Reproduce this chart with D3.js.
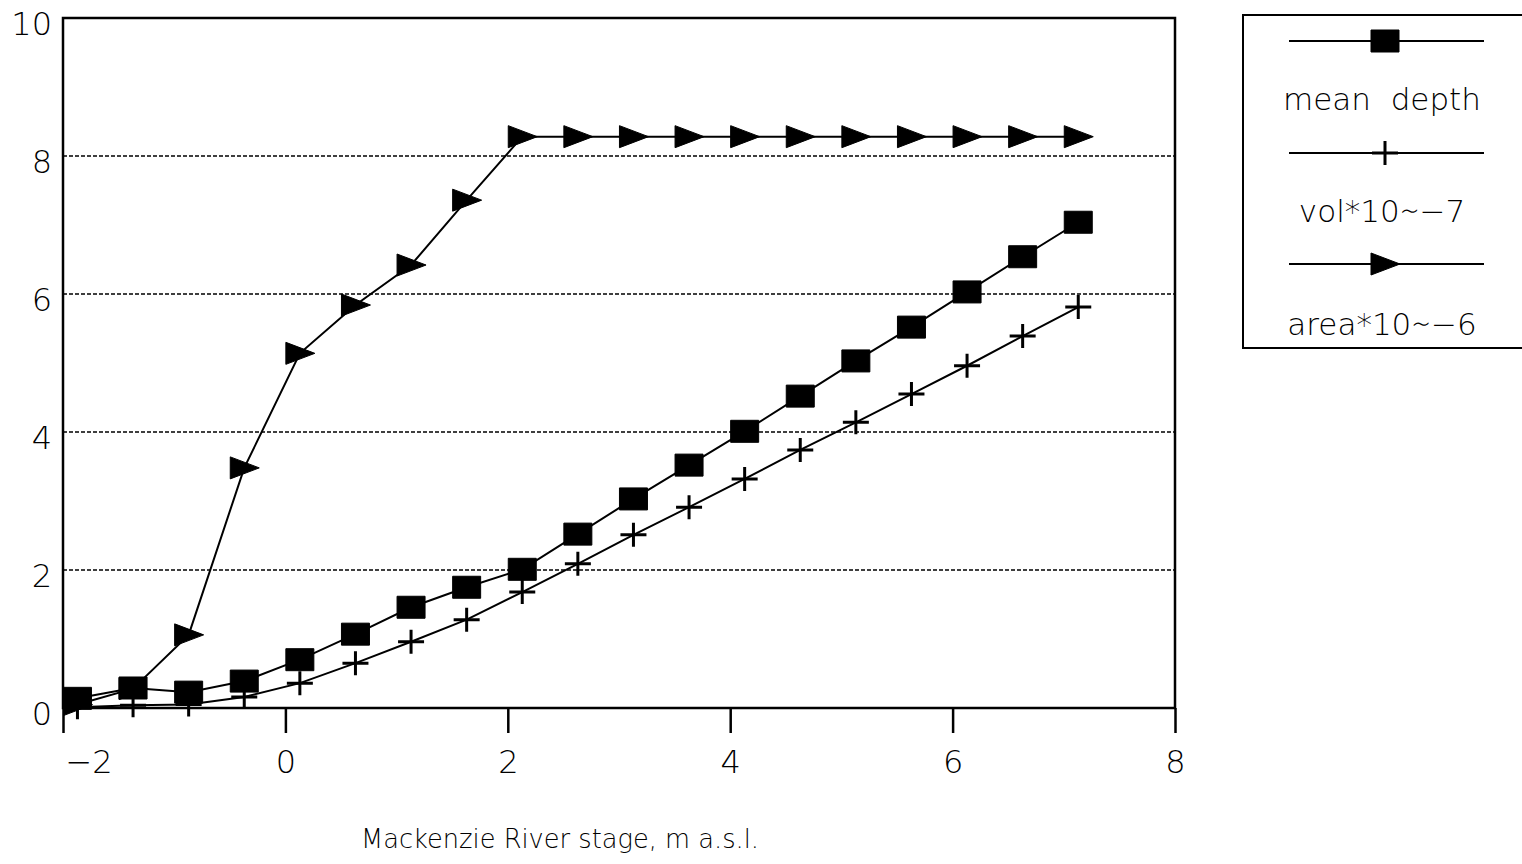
<!DOCTYPE html>
<html>
<head>
<meta charset="utf-8">
<script src="https://cdn.jsdelivr.net/npm/d3@7"></script>
<style>
  html, body { margin: 0; padding: 0; background: #fff; }
  svg { display: block; }
  text { font-family: "DejaVu Sans", sans-serif; font-weight: 200; fill: #000; }
</style>
</head>
<body>
<svg id="chart" width="1522" height="864"></svg>
<script>
// Mackenzie River stage (m a.s.l.) at each surveyed level
const stage = [-1.87, -1.37, -0.87, -0.37, 0.13, 0.63, 1.13, 1.63, 2.13, 2.63,
               3.13, 3.63, 4.13, 4.63, 5.13, 5.63, 6.13, 6.63, 7.13];
const meanDepth = [0.14, 0.29, 0.23, 0.39, 0.70, 1.07, 1.46, 1.75, 2.01, 2.52,
                   3.03, 3.52, 4.01, 4.52, 5.03, 5.52, 6.03, 6.54, 7.04];
const volume = [0.01, 0.04, 0.05, 0.16, 0.36, 0.65, 0.96, 1.28, 1.68, 2.09,
                2.51, 2.91, 3.32, 3.74, 4.14, 4.55, 4.96, 5.39, 5.81];
const area = [0.05, 0.28, 1.06, 3.48, 5.14, 5.84, 6.42, 7.36, 8.28, 8.28,
              8.28, 8.28, 8.28, 8.28, 8.28, 8.28, 8.28, 8.28, 8.28];
const xTicks = [-2, 0, 2, 4, 6, 8];
const yTicks = [0, 2, 4, 6, 8, 10];
const gridValues = [2, 4, 6, 8];
const seriesNames = ["mean  depth", "vol*10\u223C\u22127", "area*10\u223C\u22126"];
const xTitle = "Mackenzie River stage, m a.s.l.";

const svg = d3.select("#chart");
const x = d3.scaleLinear().domain([-2, 8]).range([63, 1175]);
const y = d3.scaleLinear().domain([0, 10]).range([708, 18]);

// dotted horizontal grid
svg.append("g").selectAll("line").data(gridValues).join("line")
  .attr("x1", x(-2)).attr("x2", x(8))
  .attr("y1", d => y(d)).attr("y2", d => y(d))
  .attr("stroke", "#000").attr("stroke-width", 1.6)
  .attr("stroke-dasharray", "4,2");

// plot frame
svg.append("rect")
  .attr("x", x(-2)).attr("y", y(10))
  .attr("width", x(8) - x(-2)).attr("height", y(0) - y(10))
  .attr("fill", "none").attr("stroke", "#000").attr("stroke-width", 2.5);

// x axis
const xAxis = svg.append("g")
  .attr("transform", `translate(0,${y(0)})`)
  .call(d3.axisBottom(x).tickValues(xTicks).tickSize(25).tickPadding(17))
  .call(g => g.select(".domain").remove());
xAxis.selectAll(".tick line").attr("stroke", "#000").attr("stroke-width", 2.5);
xAxis.selectAll("text").attr("font-size", 32).attr("font-family", null);
xAxis.selectAll(".tick").filter(d => d === -2).select("text")
  .attr("text-anchor", "start").attr("dx", 2);

// y axis
const yAxis = svg.append("g")
  .attr("transform", `translate(${x(-2)},0)`)
  .call(d3.axisLeft(y).tickValues(yTicks).tickSize(0).tickPadding(11))
  .call(g => g.select(".domain").remove());
yAxis.selectAll("text").attr("font-size", 32).attr("font-family", null).attr("dy", "0.5em");

// x title
svg.append("text")
  .attr("x", 560).attr("y", 848)
  .attr("text-anchor", "middle")
  .attr("font-size", 27)
  .attr("textLength", 398)
  .attr("lengthAdjust", "spacingAndGlyphs")
  .text(xTitle);

const line = d3.line().x(d => x(d[0])).y(d => y(d[1]));
const series = [meanDepth, volume, area].map(v => stage.map((s, i) => [s, v[i]]));

svg.append("g").selectAll("path").data(series).join("path")
  .attr("d", line)
  .attr("fill", "none").attr("stroke", "#000").attr("stroke-width", 2);

// marker shapes
const squarePath = "M-14,-11H14V11H-14Z";
const plusPath = "M-13,0H13M0,-12V12";
const triPath = "M-14,-11L15,0L-14,11Z";

function drawMarkers(data, path, filled) {
  svg.append("g").selectAll("path").data(data).join("path")
    .attr("transform", d => `translate(${x(d[0])},${y(d[1])})`)
    .attr("d", path)
    .attr("fill", filled ? "#000" : "none")
    .attr("stroke", "#000")
    .attr("stroke-width", filled ? 1 : 3);
}
drawMarkers(series[2], triPath, true);
drawMarkers(series[1], plusPath, false);
drawMarkers(series[0], squarePath, true);

// legend
const legend = svg.append("g");
legend.append("rect")
  .attr("x", 1243).attr("y", 15).attr("width", 320).attr("height", 333)
  .attr("fill", "#fff").attr("stroke", "#000").attr("stroke-width", 2);
const legendRows = [
  { name: seriesNames[0], path: squarePath, filled: true, ly: 41, ty: 110 },
  { name: seriesNames[1], path: plusPath, filled: false, ly: 153, ty: 222 },
  { name: seriesNames[2], path: triPath, filled: true, ly: 264, ty: 335 }
];
legendRows.forEach(r => {
  legend.append("line")
    .attr("x1", 1289).attr("x2", 1484).attr("y1", r.ly).attr("y2", r.ly)
    .attr("stroke", "#000").attr("stroke-width", 2);
  legend.append("path")
    .attr("transform", `translate(1385,${r.ly})`)
    .attr("d", r.path)
    .attr("fill", r.filled ? "#000" : "none")
    .attr("stroke", "#000").attr("stroke-width", r.filled ? 1 : 3);
  legend.append("text")
    .attr("x", 1382).attr("y", r.ty)
    .attr("text-anchor", "middle")
    .attr("font-size", 31)
    .style("white-space", "pre")
    .text(r.name);
});
</script>
</body>
</html>
